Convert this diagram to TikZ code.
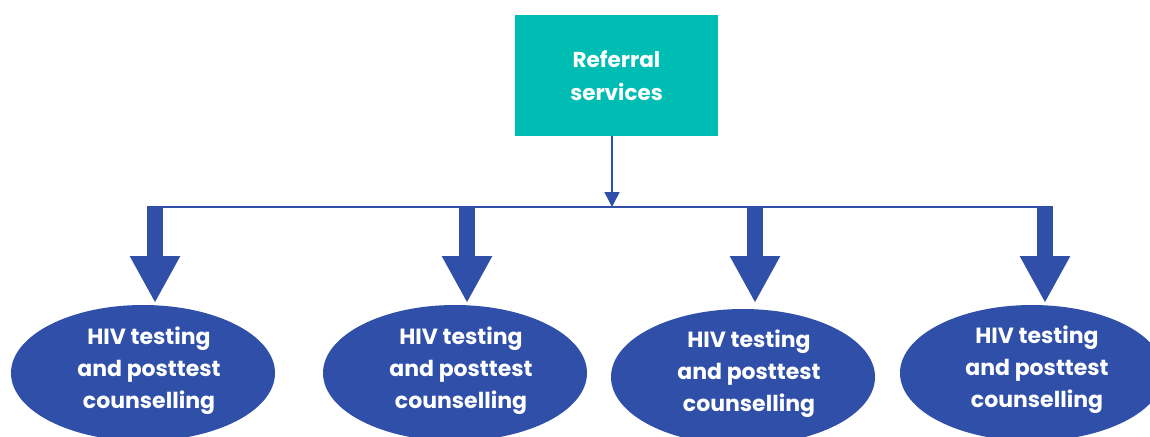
\documentclass[tikz,border=0pt]{standalone}
\usepackage{fontspec}
\setmainfont{Poppins}
\usetikzlibrary{shapes.geometric,arrows.meta,calc}
\definecolor{refteal}{RGB}{0,189,180}
\definecolor{hivblue}{RGB}{47,79,168}
\tikzset{
  refbox/.style={fill=refteal, draw=none, minimum width=203pt, minimum height=121pt,
    inner sep=0pt, text=white, align=center, font=\fontsize{21.5}{33}\selectfont\bfseries},
  hivell/.style={ellipse, fill=hivblue, draw=none, minimum width=264pt, minimum height=136pt, inner sep=0pt},
  hivtxt/.style={text=white, align=center, inner sep=0pt, font=\fontsize{22}{32}\selectfont\bfseries},
  thinlink/.style={draw=hivblue, line width=1.5pt},
  blockarrow/.style={draw=hivblue, line width=16pt, line cap=butt,
    -{Triangle[width=47pt, length=47pt]}},
}
\begin{document}
\begin{tikzpicture}[x=1pt, y=-1pt]
  \clip (0,0) rectangle (1150,436);
  \fill[white] (0,0) rectangle (1150,436);

  % top box
  \node[refbox] (ref) at (616.5,75.5) {Referral\\services};

  % distribution bus
  \coordinate (busL) at (147,207);
  \coordinate (busR) at (1053,207);
  \coordinate (busM) at (612,207);
  \draw[thinlink] (busL) -- (busR);
  \draw[thinlink, -{Triangle[width=15pt, length=15pt]}] (ref.south -| busM) -- (busM);

  % target ellipses
  \node[hivell] (e1) at (143,373) {};
  \node[hivell] (e2) at (455,373) {};
  \node[hivell] (e3) at (743,377) {};
  \node[hivell] (e4) at (1032,373) {};
  \node[hivtxt] (t1) at (149,371) {HIV testing\\and posttest\\counselling};
  \node[hivtxt] (t2) at (461,371) {HIV testing\\and posttest\\counselling};
  \node[hivtxt] (t3) at (749,374) {HIV testing\\and posttest\\counselling};
  \node[hivtxt] (t4) at (1037,370) {HIV testing\\and posttest\\counselling};

  % block arrows from bus to ellipses
  \foreach \x/\e in {155/e1, 467/e2, 755/e3, 1045/e4} {
    \coordinate (top\e) at (\x,207);
    \coordinate (tip\e) at (\x,303);
    \draw[blockarrow] (top\e) -- (tip\e);
  }
\end{tikzpicture}
\end{document}
